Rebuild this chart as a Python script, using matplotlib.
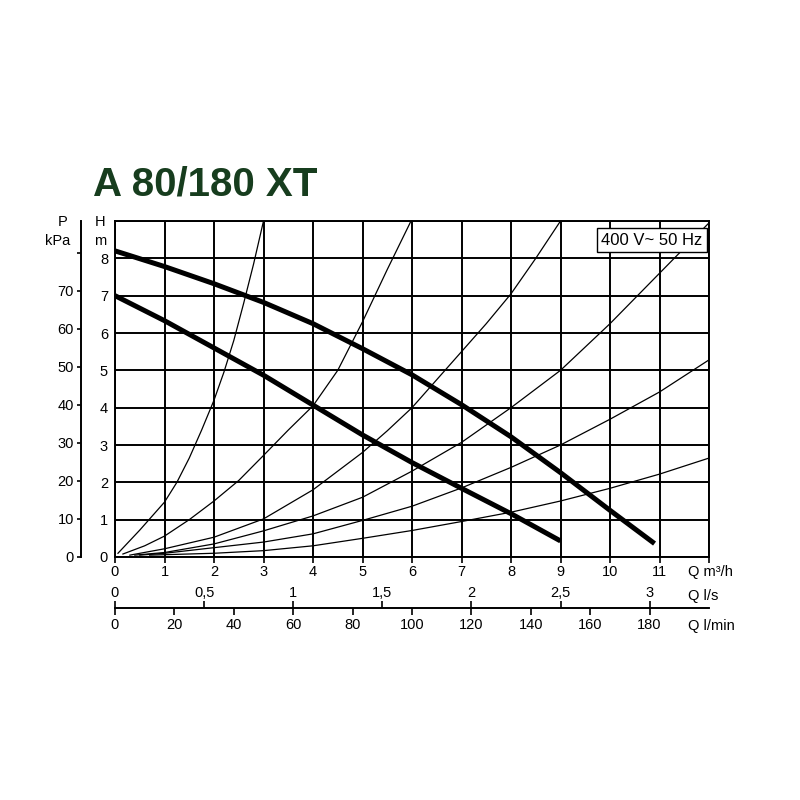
import matplotlib
matplotlib.use("Agg")
import matplotlib.pyplot as plt

plt.rcParams['font.family'] = ['Liberation Sans', 'DejaVu Sans']

# pump curves (Q in m3/h, H in m)
q_max = [0, 1, 2, 3, 4, 5, 6, 7, 8, 9, 10, 10.9]
h_max = [8.2, 7.78, 7.32, 6.82, 6.25, 5.58, 4.88, 4.08, 3.22, 2.26, 1.25, 0.36]

q_min = [0, 1, 2, 3, 4, 5, 6, 7, 8, 9]
h_min = [7.0, 6.33, 5.6, 4.87, 4.07, 3.27, 2.53, 1.84, 1.16, 0.43]

# system curves (thin lines)
q_sys1 = [0.06, 0.5, 1.0, 1.25, 1.5, 1.75, 2.0, 2.2, 2.4, 2.6, 2.8, 3.0]
h_sys1 = [0.1, 0.72, 1.47, 2.0, 2.65, 3.4, 4.2, 4.95, 5.8, 6.8, 7.85, 9.0]
q_sys2 = [0.16, 0.6, 1, 1.5, 2, 2.5, 3, 3.5, 4, 4.5, 5, 5.5, 5.98]
h_sys2 = [0.08, 0.3, 0.56, 1.0, 1.5, 2.05, 2.72, 3.4, 4.05, 5.0, 6.3, 7.7, 9.0]
q_sys3 = [0.3, 1, 2, 3, 4, 5, 5.5, 6, 6.5, 7, 7.5, 8, 8.5, 9.0]
h_sys3 = [0.05, 0.22, 0.53, 1.02, 1.8, 2.8, 3.38, 4.0, 4.75, 5.5, 6.25, 7.05, 8.0, 9.0]
q_sys4 = [0.4, 1, 2, 3, 4, 5, 6, 7, 8, 9, 10, 11, 12]
h_sys4 = [0.05, 0.12, 0.35, 0.7, 1.1, 1.6, 2.3, 3.07, 4.0, 5.0, 6.25, 7.6, 8.95]
q_sys5 = [0.5, 1, 2, 3, 4, 5, 6, 7, 8, 9, 10, 11, 12]
h_sys5 = [0.05, 0.1, 0.25, 0.4, 0.62, 0.98, 1.36, 1.85, 2.4, 3.0, 3.69, 4.42, 5.28]
q_sys6 = [0.7, 2, 3, 4, 5, 6, 7, 8, 9, 10, 11, 12]
h_sys6 = [0.05, 0.1, 0.17, 0.3, 0.5, 0.71, 0.95, 1.2, 1.5, 1.84, 2.22, 2.65]

system_curves = [(q_sys1, h_sys1), (q_sys2, h_sys2), (q_sys3, h_sys3),
                 (q_sys4, h_sys4), (q_sys5, h_sys5), (q_sys6, h_sys6)]

q_ticks = list(range(13))
q_labels = [str(i) for i in range(12)] + ['']
h_ticks = list(range(10))
h_labels = [str(i) for i in range(9)] + ['']
kpa_ticks = [0, 10, 20, 30, 40, 50, 60, 70, 80]
kpa_labels = ['0', '10', '20', '30', '40', '50', '60', '70', '']
ls_ticks = [0, 0.5, 1, 1.5, 2, 2.5, 3]
ls_labels = ['0', '0,5', '1', '1,5', '2', '2,5', '3']
lmin_ticks = [0, 20, 40, 60, 80, 100, 120, 140, 160, 180]

W = 800.0


def px(x, y):
    return x / W, 1 - y / W


fig = plt.figure(figsize=(8, 8), dpi=100)
ax = fig.add_axes([115 / W, 1 - 557 / W, 594 / W, 336 / W])

ax.set_xlim(0, 12)
ax.set_ylim(0, 9)
ax.grid(True, color='black', linewidth=1.4)
ax.set_axisbelow(True)
for s in ax.spines.values():
    s.set_linewidth(1.4)

ax.set_xticks(q_ticks)
ax.set_xticklabels(q_labels)
ax.set_yticks(h_ticks)
ax.set_yticklabels(h_labels)
ax.tick_params(axis='x', length=4, width=1.2, pad=2, labelsize=10.5)
ax.tick_params(axis='y', length=0, pad=5, labelsize=10.5)

for q, h in system_curves:
    ax.plot(q, h, color='black', linewidth=0.9, zorder=3)

ax.plot(q_max, h_max, color='black', linewidth=3.6, solid_capstyle='butt', zorder=4)
ax.plot(q_min, h_min, color='black', linewidth=3.6, solid_capstyle='butt', zorder=4)

ax.text(10.85, 8.49, '400 V~ 50 Hz', ha='center', va='center', fontsize=12,
        bbox=dict(boxstyle='square,pad=0.25', fc='white', ec='black', lw=1), zorder=5)

# pressure scale in kPa
kpa = ax.secondary_yaxis(-34 / 594, functions=(lambda h: h * 9.81, lambda p: p / 9.81))
kpa.set_yticks(kpa_ticks)
kpa.set_yticklabels(kpa_labels)
kpa.tick_params(length=3, width=1.2, pad=2, labelsize=10.5)
kpa.spines['left'].set_linewidth(1.4)

# flow scales in l/s and l/min on one line
loc = -51 / 336
ls = ax.secondary_xaxis(loc, functions=(lambda q: q / 3.6, lambda s: s * 3.6))
ls.set_alignment('top')
ls.set_xticks(ls_ticks)
ls.set_xticklabels(ls_labels)
ls.tick_params(length=5, width=1.2, pad=1, labelsize=10.5)

lmin = ax.secondary_xaxis(loc, functions=(lambda q: q * 1000 / 60, lambda m: m * 60 / 1000))
lmin.set_xticks(lmin_ticks)
lmin.tick_params(length=5, width=1.2, pad=2, labelsize=10.5)
for a in (ls, lmin):
    for s in a.spines.values():
        s.set_linewidth(1.2)

# axis captions
fig.text(*px(688, 572), 'Q m³/h', ha='left', va='center', fontsize=10.5)
fig.text(*px(688, 596), 'Q l/s', ha='left', va='center', fontsize=10.5)
fig.text(*px(688, 626), 'Q l/min', ha='left', va='center', fontsize=10.5)
fig.text(*px(100, 222), 'H', ha='center', va='center', fontsize=10.5)
fig.text(*px(100, 241), 'm', ha='center', va='center', fontsize=10.5)
fig.text(*px(63, 222), 'P', ha='center', va='center', fontsize=10.5)
fig.text(*px(58, 241), 'kPa', ha='center', va='center', fontsize=10.5)

fig.text(*px(93, 184), 'A 80/180 XT', ha='left', va='center', fontsize=29,
         fontweight='bold', color='#173d1e')

fig.savefig('out.png', dpi=100, facecolor='white')
